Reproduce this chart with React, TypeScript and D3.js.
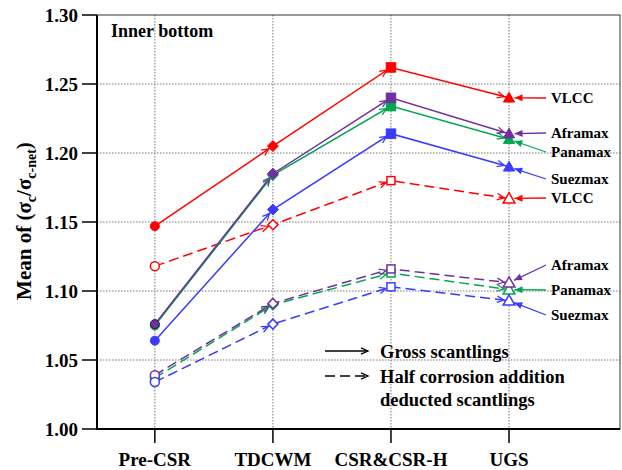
import React from "react";
import * as d3 from "d3";

// categories and series values
const categories = ["Pre-CSR", "TDCWM", "CSR&CSR-H", "UGS"];
const vlccGross = [1.147, 1.205, 1.262, 1.240];
const aframaxGross = [1.076, 1.185, 1.240, 1.214];
const panamaxGross = [1.075, 1.184, 1.234, 1.210];
const suezmaxGross = [1.064, 1.159, 1.214, 1.190];
const vlccHalf = [1.118, 1.148, 1.180, 1.167];
const aframaxHalf = [1.039, 1.091, 1.116, 1.106];
const panamaxHalf = [1.037, 1.090, 1.113, 1.101];
const suezmaxHalf = [1.034, 1.076, 1.103, 1.093];
const yTicks = [1.0, 1.05, 1.1, 1.15, 1.2, 1.25, 1.3];
const shipNames = ["VLCC", "Aframax", "Panamax", "Suezmax"];

const RED = "#ff0000";
const PURPLE = "#7030a0";
const GREEN = "#00a651";
const BLUE = "#3b3bff";
const FONT = "'Liberation Serif', 'Times New Roman', serif";

const W = 622;
const H = 470;
const left = 97;
const right = 620;
const top = 15;
const bottom = 429;

const x = d3.scaleLinear().domain([-0.49, 3.94]).range([left, right]);
const y = d3.scaleLinear().domain([1.0, 1.3]).range([bottom, top]);

type Series = { name: string; values: number[]; color: string; dashed: boolean; labelY: number };

const series: Series[] = [
  { name: shipNames[0], values: vlccGross, color: RED, dashed: false, labelY: 98 },
  { name: shipNames[1], values: aframaxGross, color: PURPLE, dashed: false, labelY: 133 },
  { name: shipNames[2], values: panamaxGross, color: GREEN, dashed: false, labelY: 152 },
  { name: shipNames[3], values: suezmaxGross, color: BLUE, dashed: false, labelY: 179 },
  { name: shipNames[0], values: vlccHalf, color: RED, dashed: true, labelY: 198 },
  { name: shipNames[1], values: aframaxHalf, color: PURPLE, dashed: true, labelY: 265 },
  { name: shipNames[2], values: panamaxHalf, color: GREEN, dashed: true, labelY: 290 },
  { name: shipNames[3], values: suezmaxHalf, color: BLUE, dashed: true, labelY: 315 },
];

// open "V" arrow head with its tip at (tx, ty), pointing away from (fx, fy)
function vHead(fx: number, fy: number, tx: number, ty: number, len = 7, half = 3.2) {
  const dx = tx - fx;
  const dy = ty - fy;
  const d = Math.hypot(dx, dy) || 1;
  const ux = dx / d;
  const uy = dy / d;
  const bx = tx - ux * len;
  const by = ty - uy * len;
  return `M${bx - uy * half},${by + ux * half}L${tx},${ty}L${bx + uy * half},${by - ux * half}`;
}

function filledHead(fx: number, fy: number, tx: number, ty: number, len = 8, half = 3.5) {
  const dx = tx - fx;
  const dy = ty - fy;
  const d = Math.hypot(dx, dy) || 1;
  const ux = dx / d;
  const uy = dy / d;
  const bx = tx - ux * len;
  const by = ty - uy * len;
  return `M${tx},${ty}L${bx - uy * half},${by + ux * half}L${bx + uy * half},${by - ux * half}Z`;
}

function Marker({ i, cx, cy, color, hollow, outline }: { i: number; cx: number; cy: number; color: string; hollow: boolean; outline?: string }) {
  const fill = hollow ? "#fff" : color;
  const stroke = outline || color;
  const sw = hollow ? 1.5 : 1;
  if (i === 0) return <circle cx={cx} cy={cy} r={4.5} fill={fill} stroke={stroke} strokeWidth={sw} />;
  if (i === 1) {
    const s = hollow ? 5 : 5.5;
    return (
      <path
        d={`M0,${-s}L${s},0L0,${s}L${-s},0Z`}
        transform={`translate(${cx},${cy})`}
        fill={fill}
        stroke={stroke}
        strokeWidth={sw}
      />
    );
  }
  if (i === 2) {
    const s = hollow ? 8 : 9.5;
    return <rect x={cx - s / 2} y={cy - s / 2} width={s} height={s} fill={fill} stroke={stroke} strokeWidth={sw} />;
  }
  return (
    <path
      d={d3.symbol(d3.symbolTriangle, hollow ? 60 : 55)()!}
      transform={`translate(${cx},${cy + 1})`}
      fill={fill}
      stroke={stroke}
      strokeWidth={sw}
    />
  );
}

export default function App() {
  const line = d3
    .line<number>()
    .x((_, i) => x(i))
    .y((d) => y(d));

  // draw dashed series first, then gross series on top (purple over green)
  const order = [4, 6, 5, 7, 0, 3, 2, 1];

  return (
    <svg width={W} height={H} style={{ position: "absolute", left: 0, top: 0, background: "#fff" }} fontFamily={FONT}>
      {/* grid */}
      {yTicks.slice(1, -1).map((t) => (
        <line key={`gy${t}`} x1={left} x2={right} y1={y(t)} y2={y(t)} stroke="#777" strokeWidth={1} strokeDasharray="1.5,1.5" />
      ))}
      {categories.map((c, i) => (
        <line key={`gx${c}`} x1={x(i)} x2={x(i)} y1={top} y2={bottom} stroke="#777" strokeWidth={1} strokeDasharray="1.5,1.5" />
      ))}

      {/* frame */}
      <rect x={left} y={top} width={right - left} height={bottom - top} fill="none" stroke="#333" strokeWidth={1} />
      <line x1={left} x2={left} y1={top} y2={bottom + 1} stroke="#000" strokeWidth={2} />
      <line x1={left - 1} x2={right} y1={bottom} y2={bottom} stroke="#000" strokeWidth={2} />

      {/* y ticks and labels */}
      {yTicks.map((t) => (
        <g key={`yt${t}`}>
          <line x1={left - 15} x2={left} y1={y(t)} y2={y(t)} stroke="#000" strokeWidth={1.5} />
          <text x={left - 19} y={y(t)} dy="0.35em" textAnchor="end" fontSize={19} fontWeight="bold">
            {t.toFixed(2)}
          </text>
        </g>
      ))}

      {/* x ticks and labels */}
      {categories.map((c, i) => (
        <g key={`xt${c}`}>
          <line x1={x(i)} x2={x(i)} y1={bottom} y2={bottom + 14} stroke="#000" strokeWidth={1.5} />
          <text x={x(i)} y={466} textAnchor="middle" fontSize={19} fontWeight="bold">
            {c}
          </text>
        </g>
      ))}

      {/* y axis title */}
      <text transform="translate(31,221) rotate(-90)" textAnchor="middle" fontSize={21} fontWeight="bold">
        Mean of (σ
        <tspan fontSize={14} dy={5}>c</tspan>
        <tspan dy={-5}>/σ</tspan>
        <tspan fontSize={14} dy={5}>c-net</tspan>
        <tspan dy={-5}>)</tspan>
      </text>

      <text x={111} y={37} fontSize={18} fontWeight="bold">
        Inner bottom
      </text>

      {/* series lines */}
      {order.map((k) => {
        const s = series[k];
        return (
          <path
            key={`l${k}`}
            d={line(s.values)!}
            fill="none"
            stroke={s.color}
            strokeWidth={1.5}
            strokeDasharray={s.dashed ? "10,5" : undefined}
          />
        );
      })}

      {/* arrow heads on segments */}
      {order.map((k) => {
        const s = series[k];
        return s.values.slice(1).map((v, j) => {
          const fx = x(j);
          const fy = y(s.values[j]);
          const px = x(j + 1);
          const py = y(v);
          const d = Math.hypot(px - fx, py - fy);
          const tx = px - ((px - fx) / d) * 5;
          const ty = py - ((py - fy) / d) * 5;
          return <path key={`a${k}-${j}`} d={vHead(fx, fy, tx, ty)} fill="none" stroke={s.color} strokeWidth={1.3} />;
        });
      })}

      {/* markers */}
      {order.map((k) => {
        const s = series[k];
        return s.values.map((v, i) => (
          <Marker
            key={`m${k}-${i}`}
            i={i}
            cx={x(i)}
            cy={y(v)}
            color={s.color}
            hollow={s.dashed}
            outline={!s.dashed && k === 1 && i === 0 ? "#222" : undefined}
          />
        ));
      })}

      {/* right-side labels with pointers */}
      {series.map((s, k) => {
        const px = x(3);
        const py = y(s.values[3]);
        const tailX = 546;
        const tailY = s.labelY;
        const dx = tailX - px;
        const dy = tailY - py;
        const d = Math.hypot(dx, dy);
        const tx = px + (dx / d) * 5.5;
        const ty = py + (dy / d) * 5.5;
        return (
          <g key={`lab${k}`}>
            <line x1={tailX} y1={tailY} x2={tx} y2={ty} stroke={s.color} strokeWidth={1.3} />
            <path d={filledHead(tailX, tailY, tx, ty)} fill={s.color} />
            <text x={551} y={s.labelY} dy="0.35em" fontSize={15} fontWeight="bold">
              {s.name}
            </text>
          </g>
        );
      })}

      {/* legend */}
      <line x1={325} x2={367} y1={351} y2={351} stroke="#000" strokeWidth={1.5} />
      <path d={vHead(325, 351, 368, 351)} fill="none" stroke="#000" strokeWidth={1.3} />
      <text x={380} y={358} fontSize={18.5} fontWeight="bold">
        Gross scantlings
      </text>
      <line x1={325} x2={367} y1={376} y2={376} stroke="#000" strokeWidth={1.5} strokeDasharray="10,5" />
      <path d={vHead(325, 376, 368, 376)} fill="none" stroke="#000" strokeWidth={1.3} />
      <text x={380} y={383} fontSize={18.5} fontWeight="bold">
        Half corrosion addition
      </text>
      <text x={380} y={406} fontSize={18.5} fontWeight="bold">
        deducted scantlings
      </text>
    </svg>
  );
}
